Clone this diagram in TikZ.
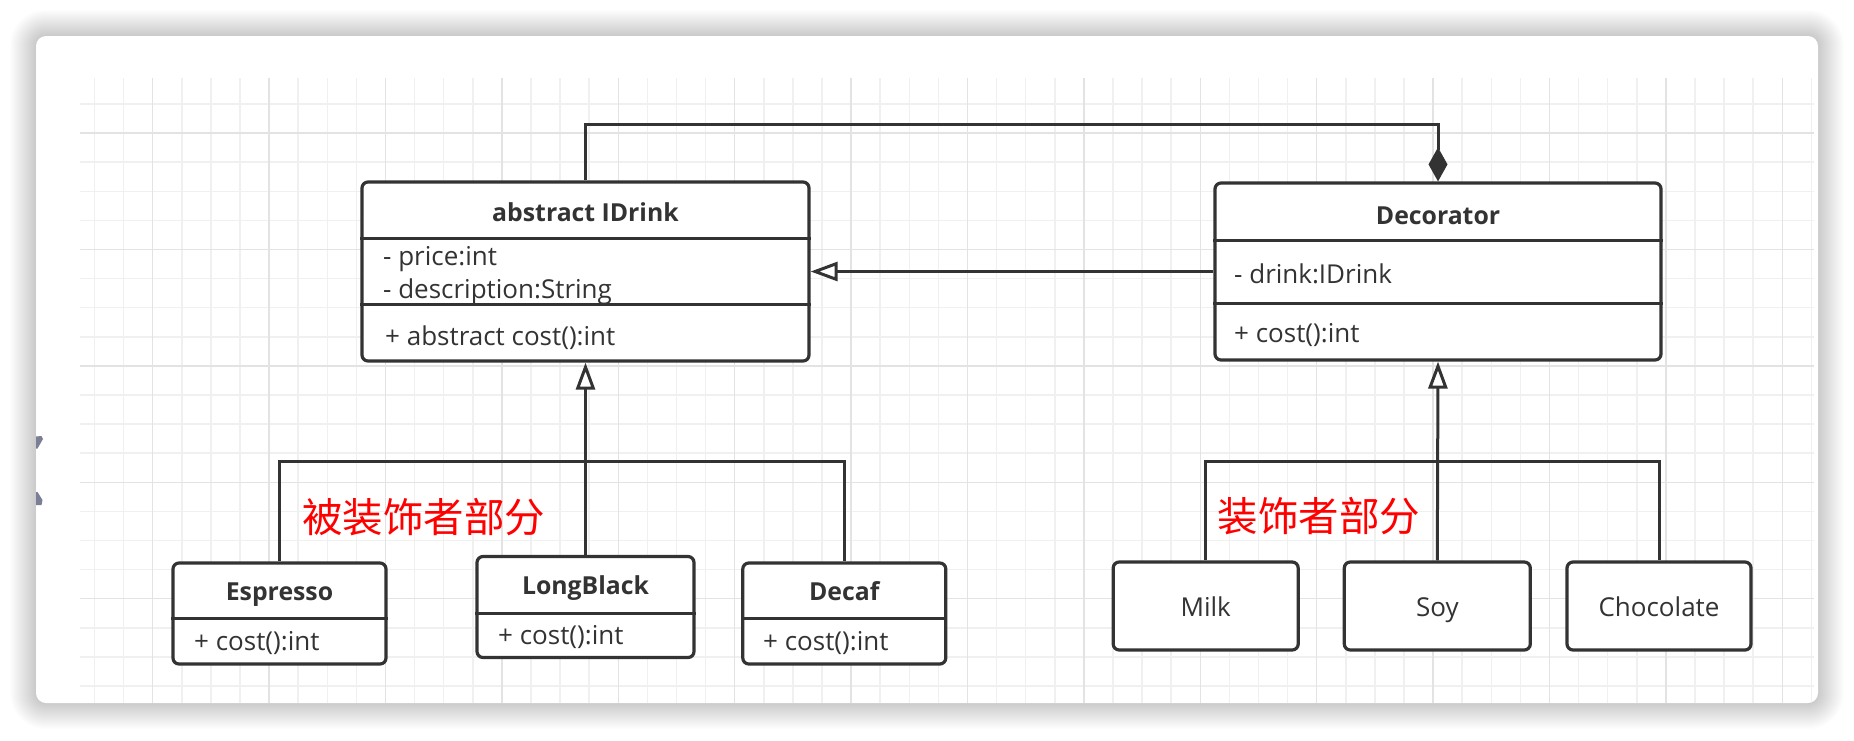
\documentclass[tikz,border=0pt]{standalone}
\usepackage{fontspec}
\setmainfont{Open Sans}
\newfontfamily\cjk{Noto Sans CJK SC}
\usetikzlibrary{arrows.meta,calc}
\definecolor{ink}{HTML}{333333}
\definecolor{txt}{HTML}{333333}
\definecolor{gminor}{HTML}{F0F0F0}
\definecolor{gmajor}{HTML}{E3E3E3}
\definecolor{knob}{HTML}{7B7F95}
\begin{document}
\begin{tikzpicture}[x=1pt,y=-1pt,
  umlbox/.style={draw=ink, line width=3.2pt, rounded corners=6pt, fill=white, inner sep=0pt},
  conn/.style={draw=ink, line width=3pt},
  div/.style={draw=ink, line width=3pt},
  cls/.style={font=\fontsize{24.8}{28}\selectfont\bfseries, text=txt, inner sep=0pt, anchor=base},
  attr/.style={font=\fontsize{26}{30}\selectfont, text=txt, inner sep=0pt, anchor=base west},
  plain/.style={font=\fontsize{26}{30}\selectfont, text=txt, inner sep=0pt, anchor=base},
  note/.style={font=\cjk\fontsize{40.5}{44}\selectfont, text=red, inner sep=0pt},
  inh/.style={conn, -{Triangle[length=27pt,width=19pt,fill=white]}},
  gridminor/.style={draw=gminor, line width=1.5pt},
  gridmajor/.style={draw=gmajor, line width=1.5pt},
]
\useasboundingbox (0,0) rectangle (1854,740);
\fill[white] (0,0) rectangle (1854,740);
% soft shadow of the card
\foreach \i in {1,...,26} {
  \pgfmathsetmacro\rr{10+\i}
  \fill[black, opacity=0.0085, rounded corners=\rr pt] ({36-\i},{36-\i}) rectangle ({1818+\i},{703+\i});
}
% card
\fill[white, rounded corners=10pt] (36,36) rectangle (1818,703);
% grid
\begin{scope}
\clip[rounded corners=10pt] (36,36) rectangle (1818,703);
\clip (80,78) rectangle (1814,703);
\foreach \k in {2,...,61} \draw[gridminor] ({36.3+29.1*\k},78) -- ({36.3+29.1*\k},703);
\foreach \j in {0,...,20} \draw[gridminor] (80,{104+29.1*\j}) -- (1814,{104+29.1*\j});
\foreach \k in {4,8,...,60} \draw[gridmajor] ({36.3+29.1*\k},78) -- ({36.3+29.1*\k},703);
\foreach \j in {1,5,...,17} \draw[gridmajor] (80,{104+29.1*\j}) -- (1814,{104+29.1*\j});
\end{scope}
% side knob fragments
\fill[knob] (36,436.5) -- (41.5,436) -- (43,439) -- (37.5,448.5) -- (36,448.5) -- cycle;
\fill[knob] (36,492) -- (37.5,492) -- (42.5,500) -- (41.5,505) -- (36,505) -- cycle;

% boxes
\node[umlbox, minimum width=447pt, minimum height=179pt] (IDrink) at (585.5,271.5) {};
\node[umlbox, minimum width=446pt, minimum height=177pt] (Decorator) at (1438,271.5) {};
\node[umlbox, minimum width=213pt, minimum height=101pt] (Espresso) at (279.5,613.5) {};
\node[umlbox, minimum width=217pt, minimum height=101pt] (LongBlack) at (585.5,607) {};
\node[umlbox, minimum width=203pt, minimum height=101pt] (Decaf) at (844.3,613.5) {};
\node[umlbox, minimum width=185pt, minimum height=88pt] (Milk) at (1205.7,606) {};
\node[umlbox, minimum width=186pt, minimum height=88pt] (Soy) at (1437.3,606) {};
\node[umlbox, minimum width=184pt, minimum height=88pt] (Choc) at (1659,606) {};

% dividers
\draw[div] ($(IDrink.north west)+(0,58)$) -- ($(IDrink.north east)+(0,58)$);
\draw[div] ($(IDrink.north west)+(0,124)$) -- ($(IDrink.north east)+(0,124)$);
\draw[div] ($(Decorator.north west)+(0,59.3)$) -- ($(Decorator.north east)+(0,59.3)$);
\draw[div] ($(Decorator.north west)+(0,122)$) -- ($(Decorator.north east)+(0,122)$);
\draw[div] ($(Espresso.north west)+(0,57)$) -- ($(Espresso.north east)+(0,57)$);
\draw[div] ($(LongBlack.north west)+(0,58.3)$) -- ($(LongBlack.north east)+(0,58.3)$);
\draw[div] ($(Decaf.north west)+(0,57)$) -- ($(Decaf.north east)+(0,57)$);

% texts
\node[cls] (tIDrink) at (585.5,221.3) {abstract IDrink};
\node[attr] (tPrice) at (383,265.3) {- price:int};
\node[attr] (tDesc) at (383,298.7) {- description:String};
\node[attr] (tAcost) at (385,345.3) {+ abstract cost():int};
\node[cls] (tDecor) at (1438,224) {Decorator};
\node[attr] (tDrink) at (1234,283) {- drink:IDrink};
\node[attr] (tDcost) at (1234,342) {+ cost():int};
\node[cls] (tEsp) at (279.5,600) {Espresso};
\node[attr] (tEcost) at (194,650) {+ cost():int};
\node[cls] (tLB) at (585.5,594) {LongBlack};
\node[attr] (tLcost) at (498,644) {+ cost():int};
\node[cls] (tDecaf) at (844.3,600) {Decaf};
\node[attr] (tDfcost) at (763,650) {+ cost():int};
\node[plain] (tMilk) at (1205.7,616.7) {Milk};
\node[plain] (tSoy) at (1437.3,616.7) {Soy};
\node[plain] (tChoc) at (1659,616.7) {Chocolate};
\node[note] (lblL) at (423.5,517.5) {被装饰者部分};
\node[note] (lblR) at (1319,516) {装饰者部分};

% connectors
\coordinate (topY) at (0,124.3);
\coordinate (barY) at (0,461.7);
\draw[conn, -{Diamond[length=34pt,width=19pt]}] (IDrink.north) -- (IDrink.north |- topY) -- (Decorator.north |- topY) -- (Decorator.north);
\draw[inh] (Decorator.west) -- (IDrink.east);
\draw[inh] (LongBlack.north) -- (IDrink.south);
\draw[conn] (Espresso.north) -- (Espresso.north |- barY) -- (Decaf.north |- barY) -- (Decaf.north);
\draw[inh] (Soy.north) -- (Decorator.south);
\draw[conn] (Milk.north) -- (Milk.north |- barY) -- (Choc.north |- barY) -- (Choc.north);
\end{tikzpicture}
\end{document}
